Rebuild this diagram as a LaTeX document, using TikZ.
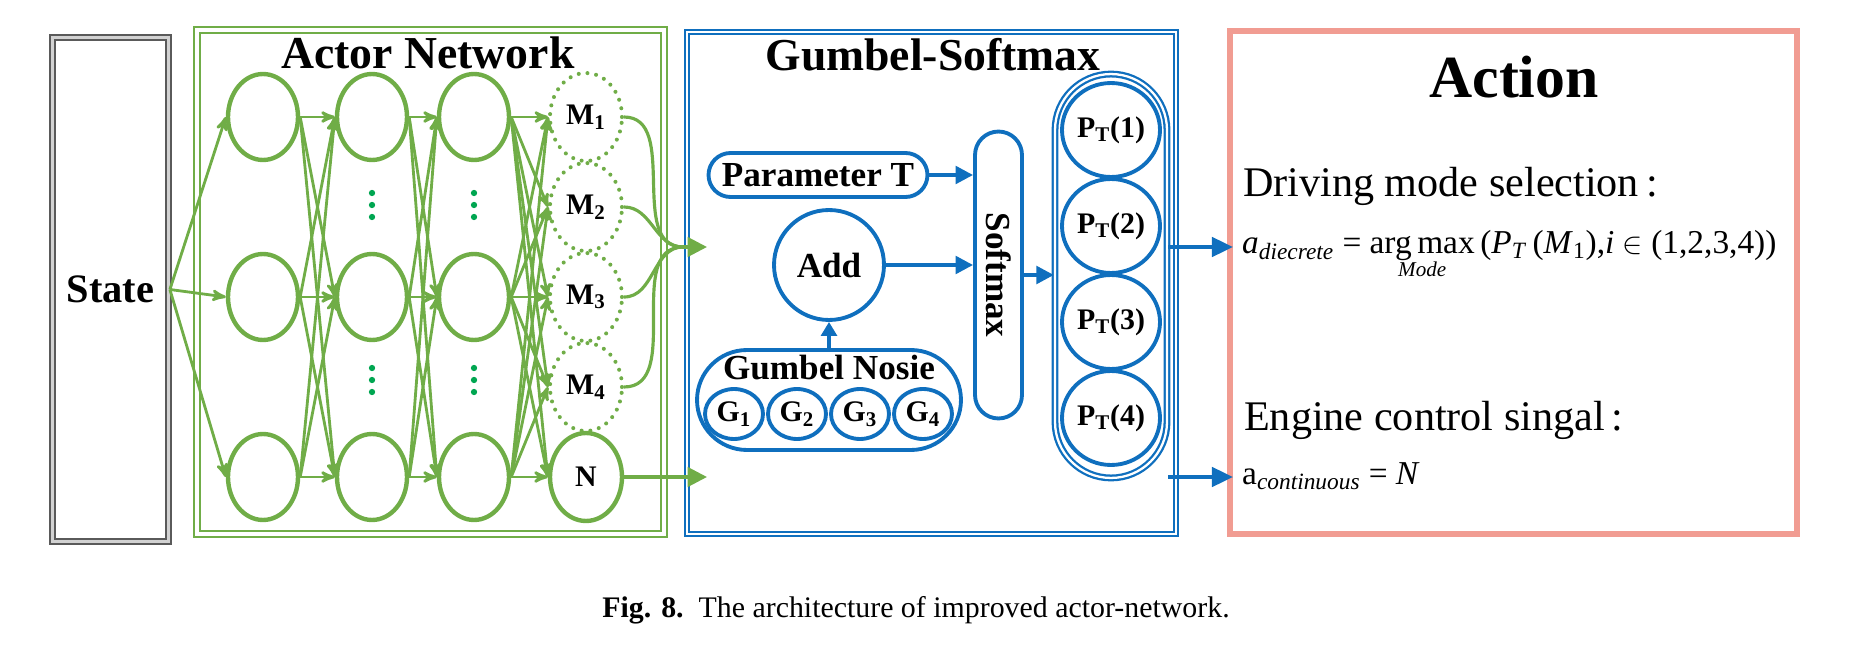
\documentclass[tikz,border=0pt]{standalone}
\usepackage{fontspec}
\setmainfont{Liberation Serif}
\usetikzlibrary{arrows,arrows.meta,shapes.geometric}
\definecolor{netgreen}{HTML}{70AD47}
\definecolor{dotgreen}{HTML}{00A651}
\definecolor{gsblue}{HTML}{0F6FBE}
\definecolor{actred}{HTML}{F19C92}
\definecolor{stategray}{HTML}{5A5A5A}

\begin{document}
\begin{tikzpicture}[x=0.02cm,y=-0.02cm,>=stealth',
    neuron/.style={ellipse,draw=netgreen,line width=2.5pt,inner sep=0pt,minimum width=1.4cm,minimum height=1.72cm},
    out node/.style={neuron,minimum width=1.44cm,minimum height=1.76cm,font=\fontsize{17}{17}\selectfont\bfseries},
    mode node/.style={out node,dash pattern=on 0pt off 5pt,line cap=round,line width=2.3pt},
    link/.style={->,draw=netgreen,line width=1.6pt},
    merge/.style={draw=netgreen,line width=1.8pt},
    merge arrow/.style={merge,-{Triangle[length=11pt,width=11pt]}},
    blue shape/.style={draw=gsblue,line width=2.2pt,inner sep=0pt,font=\fontsize{20}{20}\selectfont\bfseries},
    pill/.style={blue shape,rectangle,rounded corners=#1},
    blue arrow/.style={draw=gsblue,line width=2.2pt,-{Triangle[length=10pt,width=10pt]}},
    big title/.style={font=\fontsize{26}{26}\selectfont\bfseries}]
  \useasboundingbox (0,0) rectangle (1850,655);

  % panels
  \node[draw=stategray,double=gray!35,line width=1.6pt,double distance=1.2pt,
        minimum width=2.32cm,minimum height=10.08cm,font=\fontsize{23}{23}\selectfont\bfseries]
        (state) at (110.5,289.5) {State};
  \draw[netgreen,double,line width=1.3pt,double distance=1.8pt] (197,30) rectangle (664,534);
  \draw[gsblue,double,line width=1.1pt,double distance=1.6pt] (687,32) rectangle (1176,534);
  \draw[actred,line width=3pt] (1230,31) rectangle (1797,534);

  \node[big title] (actortitle) at (428,53) {Actor Network};
  \node[big title] (gstitle) at (933,55) {Gumbel-Softmax};
  \node[font=\fontsize{34}{34}\selectfont\bfseries] (acttitle) at (1514,77) {Action};

  % actor network
  \foreach \col/\lx in {a/263,b/372,c/474}
    \foreach \r/\ly in {1/117,2/297,3/477}
      \node[neuron] (\col\r) at (\lx,\ly) {};
  \foreach \k/\my in {1/117,2/207,3/297,4/387}
    \node[mode node] (m\k) at (586,\my) {M\textsubscript{\k}};
  \node[out node] (n) at (586,477) {N};

  \foreach \x in {372,474}
    \foreach \y in {205,380}
      \foreach \d in {-12,0,12}
        \fill[dotgreen] (\x,\y+\d) circle (1.8pt);

  \foreach \j in {1,2,3}
    \draw[link] (state.east) -- (a\j.west);
  \foreach \i in {1,2,3}
    \foreach \j in {1,2,3} {
      \draw[link] (a\i.east) -- (b\j.west);
      \draw[link] (b\i.east) -- (c\j.west);
    }
  \foreach \i in {1,2,3}
    \foreach \j in {m1,m2,m3,m4,n}
      \draw[link] (c\i.east) -- (\j.west);

  \coordinate (mg) at (683,247);
  \coordinate (gin) at (707,247);
  \foreach \k in {1,2,3,4}
    \draw[merge] (m\k.east) to[out=0,in=180] (mg);
  \draw[merge arrow] (mg) -- (gin);
  \draw[merge arrow] (n.east) -- (n.east -| gin);

  % gumbel-softmax
  \node[pill=0.44cm,minimum width=4.38cm,minimum height=0.88cm] (param) at (818,175) {Parameter T};
  \node[blue shape,circle,minimum size=2.2cm] (add) at (829,265) {Add};
  \node[pill=1cm,minimum width=5.28cm,minimum height=2cm] (gbox) at (829,400) {};
  \node[font=\fontsize{20}{20}\selectfont\bfseries] (glabel) at (829,368) {Gumbel Nosie};
  \foreach \k/\gx in {1/734,2/797,3/860,4/923}
    \node[blue shape,ellipse,minimum width=1.16cm,minimum height=1cm,font=\fontsize{17}{17}\selectfont\bfseries]
      (g\k) at (\gx,414) {G\textsubscript{\k}};
  \node[pill=0.47cm,minimum width=0.94cm,minimum height=5.74cm] (soft) at (998.5,275) {};
  \node[rotate=-90,font=\fontsize{20}{20}\selectfont\bfseries] (softlabel) at (soft) {Softmax};
  \node[pill=1.12cm,double,line width=1.3pt,double distance=1.3pt,minimum width=2.24cm,minimum height=8.08cm]
    (ptcol) at (1111,276) {};
  \foreach \k/\py in {1/130,2/226,3/322,4/418}
    \node[blue shape,ellipse,minimum width=1.96cm,minimum height=1.88cm,font=\fontsize{17}{17}\selectfont\bfseries]
      (p\k) at (1111,\py) {P\textsubscript{T}(\k)};

  \draw[blue arrow] (param.east) -- (param.east -| soft.west);
  \draw[blue arrow] (add.east) -- (add.east -| soft.west);
  \draw[blue arrow,-{Triangle[length=8pt,width=9pt]}] (gbox.north) -- (add.south);
  \draw[blue arrow] (soft.east) -- (soft.east -| ptcol.west);

  % action
  \node[anchor=base west,font=\fontsize{24}{24}\selectfont] (drvlabel) at (1237,197) {Driving mode selection\,:};
  \node[anchor=base west,font=\fontsize{19}{19}\selectfont] (eqd) at (1236,254)
    {\textit{a}\textsubscript{\textit{diecrete}} = \begin{tabular}[t]{@{}c@{}}arg\,max\\[-6pt]{\fontsize{12}{12}\selectfont\itshape Mode}\end{tabular}\,(\textit{P}\textsubscript{\textit{T}}\,(\textit{M}\textsubscript{1}),\textit{i} $\in$ (1,2,3,4))};
  \node[anchor=base west,font=\fontsize{24}{24}\selectfont] (englabel) at (1238,430) {Engine control singal\,:};
  \node[anchor=base west,font=\fontsize{19}{19}\selectfont] (eqc) at (1236,484)
    {a\textsubscript{\textit{continuous}} = \textit{N}};
  \coordinate (din) at (1233,247);
  \coordinate (cin) at (1233,477);
  \draw[blue arrow,-{Triangle[length=12pt,width=11pt]}] (din -| ptcol.east) -- (din);
  \draw[blue arrow,-{Triangle[length=12pt,width=11pt]}] (cin -| ptcol.east) -- (cin);

  \node[font=\fontsize{17}{17}\selectfont] (caption) at (916,610)
    {\textbf{Fig. 8.}\enspace The architecture of improved actor-network.};
\end{tikzpicture}
\end{document}
